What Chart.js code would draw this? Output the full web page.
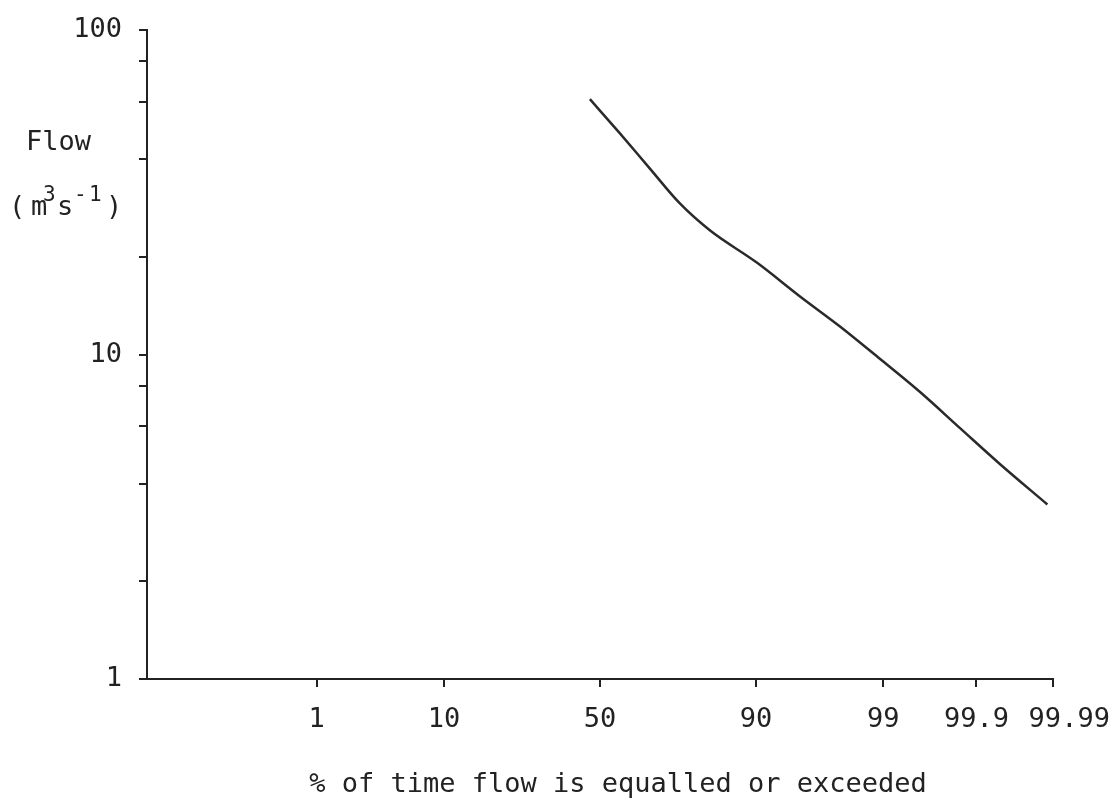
<!DOCTYPE html>
<html>
<head>
<meta charset="utf-8">
<script src="https://cdn.jsdelivr.net/npm/chart.js@4.4.1/dist/chart.umd.min.js"></script>
<style>
  html, body { margin: 0; padding: 0; background: #fff; }
  #wrap { width: 1116px; height: 802px; }
</style>
</head>
<body>
<div id="wrap"><canvas id="flow-chart"></canvas></div>
<script>
// flow duration curve
const exceedPct = [46.7, 56.5, 65.9, 74.4, 81.7, 90.1, 94.97, 97.56, 98.92, 99.57, 99.844, 99.949, 99.988];
const flows     = [61.2, 48.0, 37.4, 29.2, 24.1, 19.2, 15.1, 12.2, 9.7, 7.66, 5.93, 4.59, 3.45];

const xTickPct  = [1, 10, 50, 90, 99, 99.9, 99.99];
const xTickText = ['1', '10', '50', '90', '99', '99.9', '99.99'];
const yTicks    = [1, 2, 4, 6, 8, 10, 20, 40, 60, 80, 100];
const yTickText = { 1: '1', 10: '10', 100: '100' };

const ink = '#222';
const mono = "'DejaVu Sans Mono', monospace";

// inverse normal cdf (Acklam) -> probability paper x position
function probit(p) {
  const a = [-3.969683028665376e+01, 2.209460984245205e+02, -2.759285104469687e+02, 1.383577518672690e+02, -3.066479806614716e+01, 2.506628277459239e+00];
  const b = [-5.447609879822406e+01, 1.615858368580409e+02, -1.556989798598866e+02, 6.680131188771972e+01, -1.328068155288572e+01];
  const c = [-7.784894002430293e-03, -3.223964580411365e-01, -2.400758277161838e+00, -2.549671625133095e+00, 4.374587160033800e+00, 2.938163982698783e+00];
  const d = [7.784695709041462e-03, 3.224671290700398e-01, 2.445134137142996e+00, 3.754408661907416e+00];
  const plow = 0.02425;
  let q, r;
  if (p < plow) {
    q = Math.sqrt(-2 * Math.log(p));
    return (((((c[0]*q+c[1])*q+c[2])*q+c[3])*q+c[4])*q+c[5]) / ((((d[0]*q+d[1])*q+d[2])*q+d[3])*q+1);
  }
  if (p <= 1 - plow) {
    q = p - 0.5; r = q * q;
    return (((((a[0]*r+a[1])*r+a[2])*r+a[3])*r+a[4])*r+a[5])*q / (((((b[0]*r+b[1])*r+b[2])*r+b[3])*r+b[4])*r+1);
  }
  q = Math.sqrt(-2 * Math.log(1 - p));
  return -(((((c[0]*q+c[1])*q+c[2])*q+c[3])*q+c[4])*q+c[5]) / ((((d[0]*q+d[1])*q+d[2])*q+d[3])*q+1);
}

// axis captions: y caption sits horizontally with superscripts
const captions = {
  id: 'captions',
  afterDraw(chart) {
    const ctx = chart.ctx;
    ctx.save();
    ctx.fillStyle = ink;
    ctx.textBaseline = 'alphabetic';
    ctx.textAlign = 'left';
    ctx.font = '27px ' + mono;
    ctx.fillText('Flow', 26, 150);
    ctx.fillText('(', 9, 215);
    ctx.fillText('m', 31, 215);
    ctx.fillText('s', 57, 215);
    ctx.fillText(')', 106, 215);
    ctx.font = '21px ' + mono;
    ctx.fillText('3', 43, 201);
    ctx.fillText('-', 74, 201);
    ctx.fillText('1', 89, 201);

    ctx.font = '27px ' + mono;
    ctx.textAlign = 'center';
    ctx.fillText('% of time flow is equalled or exceeded', 618, 792);
    ctx.restore();
  }
};

const data = {
  datasets: [{
    data: exceedPct.map((p, i) => ({ x: probit(p / 100), y: flows[i] })),
    borderColor: '#2a2a2a',
    borderWidth: 2.5,
    pointRadius: 0,
    cubicInterpolationMode: 'monotone',
    fill: false
  }]
};

const config = {
  type: 'line',
  data: data,
  options: {
    responsive: true,
    maintainAspectRatio: false,
    animation: false,
    layout: { padding: { top: 30, right: 63, left: 0, bottom: 0 } },
    plugins: { legend: { display: false }, tooltip: { enabled: false } },
    scales: {
      x: {
        type: 'linear',
        min: probit(0.0001),
        max: probit(0.9999),
        afterBuildTicks: function (scale) {
          scale.ticks = xTickPct.map(p => ({ value: probit(p / 100) }));
        },
        afterFit: function (scale) {
          scale.height = 123;
          scale.paddingLeft = 0;
          scale.paddingRight = 0;
        },
        ticks: {
          autoSkip: false,
          maxRotation: 0,
          padding: 17,
          color: ink,
          font: { family: mono, size: 27 },
          callback: function (value, index) {
            // last label sits to the right of the axis end
            return index === xTickText.length - 1 ? '  ' + xTickText[index] : xTickText[index];
          }
        },
        grid: { drawOnChartArea: false, drawTicks: true, tickLength: 8, color: ink, lineWidth: 2 },
        border: { color: ink, width: 2 }
      },
      y: {
        type: 'logarithmic',
        min: 1,
        max: 100,
        afterBuildTicks: function (scale) {
          scale.ticks = yTicks.map(v => ({ value: v }));
        },
        afterFit: function (scale) {
          scale.width = 147;
          scale.paddingTop = 0;
          scale.paddingBottom = 0;
        },
        ticks: {
          autoSkip: false,
          padding: 17,
          color: ink,
          font: { family: mono, size: 27 },
          callback: function (value) { return yTickText[value] || ''; }
        },
        grid: { drawOnChartArea: false, drawTicks: true, tickLength: 8, color: ink, lineWidth: 2 },
        border: { color: ink, width: 2 }
      }
    }
  },
  plugins: [captions]
};

new Chart(document.getElementById('flow-chart'), config);
</script>
</body>
</html>
